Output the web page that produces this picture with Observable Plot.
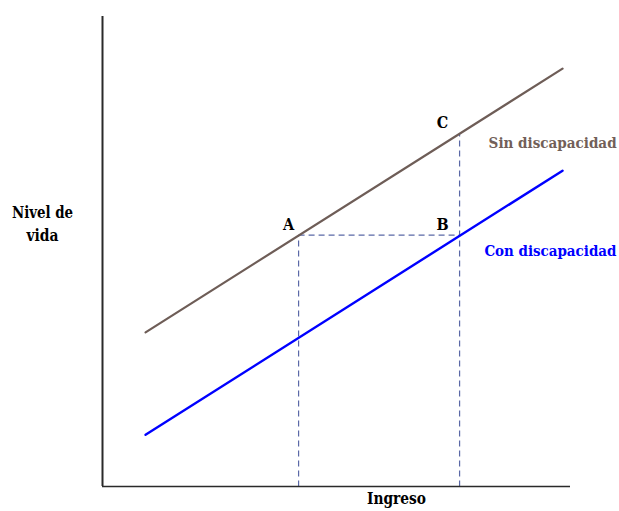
<!DOCTYPE html>
<html>
<head>
<meta charset="utf-8">
<script src="https://cdn.jsdelivr.net/npm/d3@7"></script>
<script src="https://cdn.jsdelivr.net/npm/@observablehq/plot@0.6"></script>
<style>
  html, body { margin: 0; padding: 0; background: #fff; }
  #chart { width: 619px; height: 511px; }
</style>
</head>
<body>
<div id="chart"></div>
<script>
// Series: start and end of each line (Ingreso, Nivel de vida)
const sinX = [0.92, 9.83];
const sinY = [3.28, 8.89];
const conX = [0.92, 9.83];
const conY = [1.10, 6.72];
// Key points
const pointNames = ["A", "B", "C"];
const pointX = [4.19, 7.63, 7.63];
const pointY = [5.35, 5.35, 7.52];
// Labels
const seriesNames = ["Sin discapacidad", "Con discapacidad"];
const seriesLabelX = [8.25, 8.16];
const seriesLabelY = [7.3, 5.0];
const xTitle = "Ingreso";
const yTitleLines = ["Nivel de", "vida"];

// rendered widths of the labels (px), to mimic the reference's Times-like face
const labelWidths = {"Sin discapacidad": 128, "Con discapacidad": 132, "Nivel de": 61, "vida": 32, "Ingreso": 59};

const sinLine = sinX.map((x, i) => ({x, y: sinY[i]}));
const conLine = conX.map((x, i) => ({x, y: conY[i]}));
const pts = pointNames.map((n, i) => ({n, x: pointX[i], y: pointY[i]}));
const A = pts[0], B = pts[1], C = pts[2];

const font = "DejaVu Serif Condensed, DejaVu Serif, serif";
const fs = 16;
const fsSeries = 15;
const dashColor = "#5a68a6";

const chart = Plot.plot({
  width: 619,
  height: 511,
  marginLeft: 102,
  marginRight: 49,
  marginTop: 16,
  marginBottom: 25,
  x: {domain: [0, 10], axis: null},
  y: {domain: [0, 10], axis: null},
  style: {background: "#fff"},
  marks: [
    Plot.link([{x1: A.x, y1: A.y, x2: B.x, y2: B.y}], {x1: "x1", y1: "y1", x2: "x2", y2: "y2", stroke: dashColor, strokeWidth: 1.2, strokeDasharray: "6,4"}),
    Plot.link([{x1: A.x, y1: 0, x2: A.x, y2: A.y}], {x1: "x1", y1: "y1", x2: "x2", y2: "y2", stroke: dashColor, strokeWidth: 1.2, strokeDasharray: "6,4"}),
    Plot.link([{x1: C.x, y1: 0, x2: C.x, y2: C.y}], {x1: "x1", y1: "y1", x2: "x2", y2: "y2", stroke: dashColor, strokeWidth: 1.2, strokeDasharray: "6,4"}),
    Plot.line(sinLine, {x: "x", y: "y", stroke: "#6e5d57", strokeWidth: 2.2}),
    Plot.line(conLine, {x: "x", y: "y", stroke: "#0000ff", strokeWidth: 2.4}),
    Plot.ruleX([0], {stroke: "#2a2a2a", strokeWidth: 2}),
    Plot.ruleY([0], {stroke: "#2a2a2a", strokeWidth: 1.5}),
    Plot.text([A], {x: "x", y: "y", text: "n", dx: -10, dy: -10, fontSize: fs, fontWeight: "bold", fontFamily: font, fill: "#000"}),
    Plot.text([B, C], {x: "x", y: "y", text: "n", dx: -17, dy: -10, fontSize: fs, fontWeight: "bold", fontFamily: font, fill: "#000"}),
    Plot.text([0], {x: seriesLabelX[0], y: seriesLabelY[0], text: [seriesNames[0]], textAnchor: "start", fontSize: fsSeries, fontWeight: "bold", fontFamily: font, fill: "#725f59"}),
    Plot.text([0], {x: seriesLabelX[1], y: seriesLabelY[1], text: [seriesNames[1]], textAnchor: "start", fontSize: fsSeries, fontWeight: "bold", fontFamily: font, fill: "#0000ff"}),
    Plot.text([xTitle], {frameAnchor: "bottom", dx: 60, dy: 17, fontSize: fs, fontWeight: "bold", fontFamily: font, fill: "#000"}),
    Plot.text([yTitleLines[0]], {frameAnchor: "left", dx: -60, dy: -39, textAnchor: "middle", fontSize: fs, fontWeight: "bold", fontFamily: font, fill: "#000"}),
    Plot.text([yTitleLines[1]], {frameAnchor: "left", dx: -60, dy: -16, textAnchor: "middle", fontSize: fs, fontWeight: "bold", fontFamily: font, fill: "#000"})
  ]
});
d3.select(chart).selectAll("text").each(function() {
  const t = this.textContent;
  if (labelWidths[t]) {
    this.setAttribute("textLength", labelWidths[t]);
    this.setAttribute("lengthAdjust", "spacingAndGlyphs");
  }
});
document.getElementById("chart").appendChild(chart);
</script>
</body>
</html>
